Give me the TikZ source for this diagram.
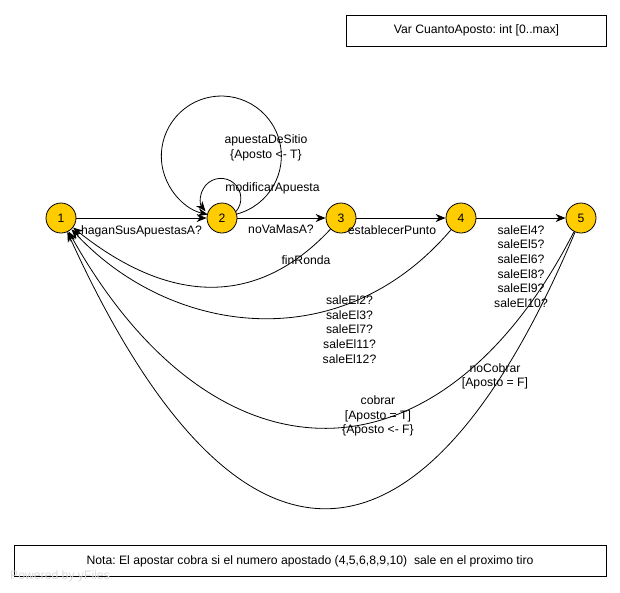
\documentclass[tikz,border=0pt]{standalone}
\usepackage{fontspec}
\setmainfont{Liberation Sans}
\usetikzlibrary{arrows.meta}
\definecolor{stateyellow}{HTML}{FFCC00}
\frenchspacing

\begin{document}
\begin{tikzpicture}[x = 1pt, y = -1pt,
    font = \fontsize{12.2}{14.7}\selectfont,
    state/.style = {circle, draw, line width = 0.8pt, fill = stateyellow, minimum size = 30pt, inner sep = 0pt},
    notebox/.style = {draw, rectangle, line width = 0.8pt, inner sep = 0pt},
    lbl/.style = {align = center, inner sep = 0pt, anchor = north},
    trans/.style = {-{Stealth[length = 10pt, width = 8pt]}, line width = 0.8pt}]
    \useasboundingbox (0,0) rectangle (620,592);
    % states
    \node[state] (s1) at (61,218) {1};
    \node[state] (s2) at (222,218) {2};
    \node[state] (s3) at (341,218) {3};
    \node[state] (s4) at (461,218) {4};
    \node[state] (s5) at (581,218) {5};
    % boxes
    \node[notebox, minimum width = 260pt, minimum height = 31pt] (var) at (476.5,30.5) {Var CuantoAposto: int [0..max]};
    \node[notebox, minimum width = 592pt, minimum height = 31pt] (nota) at (310,561) {Nota: El apostar cobra si el numero apostado (4,5,6,8,9,10)~ sale en el proximo tiro};
    \node[anchor = west, text = gray!30, inner sep = 0pt] (yfiles) at (10,576) {Powered by yFiles};
    % transitions
    \draw[trans] (s1) -- (s2);
    \draw[trans] (s2) -- (s3);
    \draw[trans] (s3) -- (s4);
    \draw[trans] (s4) -- (s5);
    \draw[trans] (s2.25) arc[start angle = 41, end angle = -220, radius = 20];
    \draw[trans] (s2.15) arc[start angle = 75, end angle = -257, radius = 60];
    \draw[trans] (s3) .. controls (250,315) and (160,297) .. (s1);
    \draw[trans] (s4) .. controls (340,360) and (170,335) .. (s1);
    \draw[trans] (s5) .. controls (440,493) and (215,493) .. (s1);
    \draw[trans] (s5) .. controls (420,600) and (235,600) .. (s1);
    % labels
    \node[lbl] (l12) at (141.5,225) {haganSusApuestasA?};
    \node[lbl] (l23) at (281,225) {noVaMasA?};
    \node[lbl] (l34) at (392,225) {establecerPunto};
    \node[lbl] (l45) at (521,225) {saleEl4?\\saleEl5?\\saleEl6?\\saleEl8?\\saleEl9?\\saleEl10?};
    \node[lbl] (l22a) at (272.5,182.5) {modificarApuesta};
    \node[lbl] (l22b) at (266,134.5) {apuestaDeSitio\\\{Aposto <- T\}};
    \node[lbl] (l31) at (306,255) {finRonda};
    \node[lbl] (l41) at (349.5,295.5) {saleEl2?\\saleEl3?\\saleEl7?\\saleEl11?\\saleEl12?};
    \node[lbl] (l51a) at (378,395.5) {cobrar\\{[}Aposto = T{]}\\\{Aposto <- F\}};
    \node[lbl] (l51b) at (495,363) {noCobrar\\{[}Aposto = F{]}};
\end{tikzpicture}
\end{document}
